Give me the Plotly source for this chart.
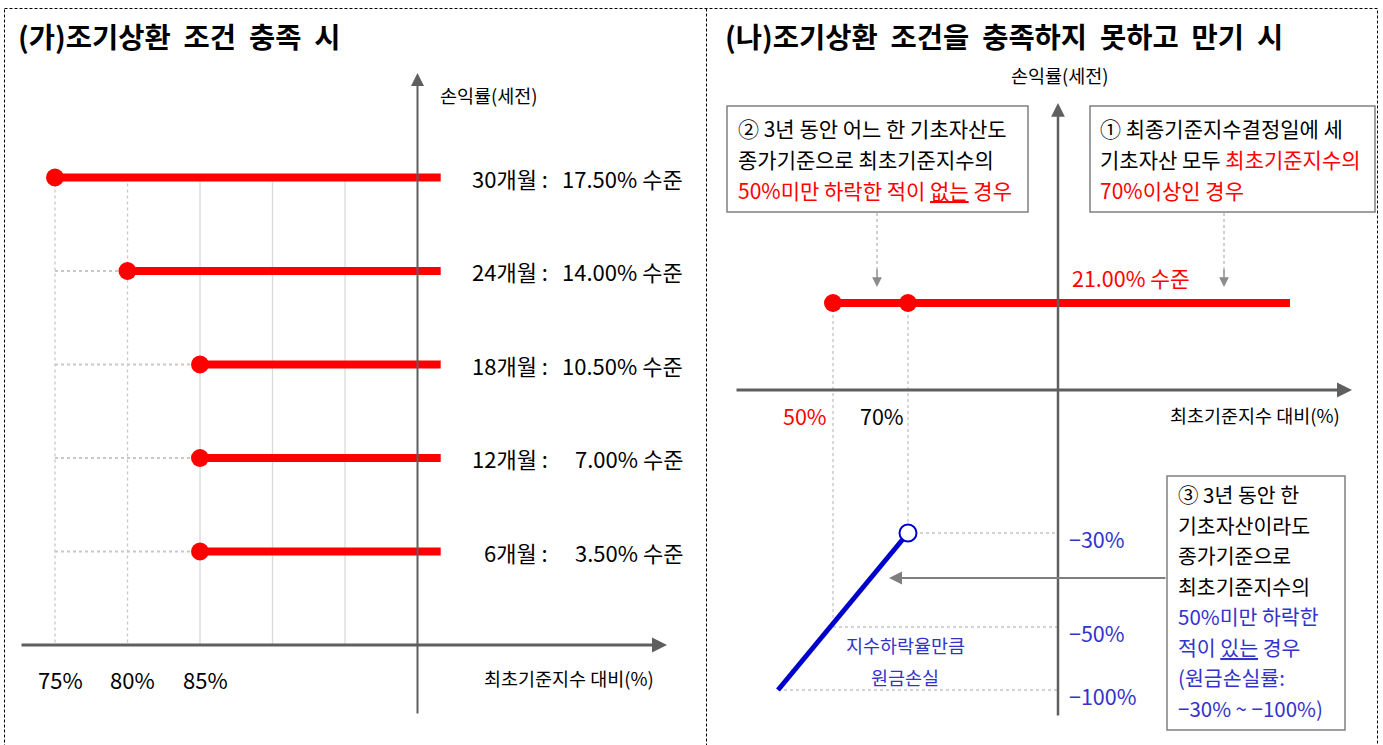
import numpy as np
import plotly.graph_objects as go

W, H = 1383, 745
FONT = "Noto Sans CJK KR"
RED = "#FF0000"
BLUE_LINE = "#0000CC"
BLUE_TXT = "#3333CC"
AXIS = "#5F5F5F"
BOXC = "#808080"

# ---------------- data: (가) early redemption ----------------
months = [30, 24, 18, 12, 6]
coupons = [17.50, 14.00, 10.50, 7.00, 3.50]
barriers = [75, 80, 85, 85, 85]
left_ticks = [75, 80, 85]
left_grid = [75, 80, 85, 90, 95]
left_line_end = 101.6

# ---------------- data: (나) maturity ----------------
mat_coupon = 21.00
ki_barrier = 50
mat_barrier = 70
red_line_index = [ki_barrier, 150]
loss_index = [70, 0]
loss_return = [-30, -100]
right_yticks = [-30, -50, -100]
right_xticks = [50, 70]

# ---------------- scales ----------------
# left panel: linear axes (x: % of initial index, y: return %)
LX_PX0, LX_V0, LX_K = 55, 75, 14.5        # px = 55 + (v-75)*14.5
LY_PX0, LY_K = 645, 93.5 / 3.5            # px = 645 - v*k
def lx(v): return LX_PX0 + (v - LX_V0) * LX_K
def ly(v): return LY_PX0 - v * LY_K
PANEL_SPLIT = 706

# right panel: schematic (broken) scale
RX_IDX = [0, 50, 70, 100, 150]; RX_PX = [778, 833, 908, 1058, 1290]
RY_RET = [-100, -50, -30, 0, 21]; RY_PX = [690, 627, 533, 390, 303]
def rx(v): return np.interp(v, RX_IDX, RX_PX)
def ry(v): return np.interp(v, RY_RET, RY_PX)

fig = go.Figure()

def ltrace(x, y, **kw):
    fig.add_trace(go.Scatter(x=x, y=y, xaxis="x", yaxis="y", showlegend=False,
                             hoverinfo="skip", cliponaxis=False, **kw))

def rtrace(x, y, **kw):
    fig.add_trace(go.Scatter(x=list(rx(np.array(x, float))), y=list(ry(np.array(y, float))),
                             xaxis="x2", yaxis="y2", showlegend=False,
                             hoverinfo="skip", cliponaxis=False, **kw))

# ---- left panel ----
top = max(coupons)
for g in left_grid:
    dotted = g < 85
    ltrace([g, g], [top, 0], mode="lines",
           line=dict(color="#C8C8C8" if dotted else "#DADADA", width=1.3,
                     dash="dot" if dotted else "solid"))
for b, c in zip(barriers, coupons):
    if b > min(barriers):
        ltrace([min(barriers), b], [c, c], mode="lines",
               line=dict(color="#C8C8C8", width=2.2, dash="dot"))
for b, c in zip(barriers, coupons):
    ltrace([b, left_line_end], [c, c], mode="lines", line=dict(color=RED, width=8))
ltrace(barriers, coupons, mode="markers",
       marker=dict(color=RED, size=18, line=dict(width=0)))

# ---- right panel ----
rtrace([ki_barrier, ki_barrier], [mat_coupon, -50], mode="lines",
       line=dict(color="#B0B0B0", width=1, dash="dot"))
rtrace([mat_barrier, mat_barrier], [mat_coupon, loss_return[0]], mode="lines",
       line=dict(color="#B0B0B0", width=1, dash="dot"))
for v, x0 in zip(right_yticks, [70, 50, 0]):
    rtrace([x0, 100], [v, v], mode="lines", line=dict(color="#A8A8A8", width=1.2, dash="dot"))
rtrace(red_line_index, [mat_coupon, mat_coupon], mode="lines", line=dict(color=RED, width=8))
rtrace([ki_barrier, mat_barrier], [mat_coupon, mat_coupon], mode="markers",
       marker=dict(color=RED, size=18, line=dict(width=0)))
rtrace(loss_index, loss_return, mode="lines", line=dict(color=BLUE_LINE, width=5))
rtrace([loss_index[0]], [loss_return[0]], mode="markers",
       marker=dict(color="white", size=17, line=dict(color=BLUE_LINE, width=2)))

annos = []
shapes = []

def P(x, y):
    return x / W, 1 - y / H

def txt(x, y, s, size, color="#000000", anchor="left", bold=False):
    px, py = P(x, y)
    annos.append(dict(x=px, y=py, xref="paper", yref="paper", text=(f"<b>{s}</b>" if bold else s),
                      showarrow=False, xanchor=anchor, yanchor="middle", borderpad=0,
                      font=dict(family=FONT, size=size, color=color)))

def arrow(x0, y0, x1, y1, color, width, size=1.0, head=2):
    px, py = P(x1, y1)
    annos.append(dict(x=px, y=py, xref="paper", yref="paper", text="", showarrow=True,
                      ax=x0 - x1, ay=y0 - y1, axref="pixel", ayref="pixel",
                      arrowhead=head, arrowsize=size, arrowwidth=width, arrowcolor=color,
                      standoff=0, startstandoff=0))

def line(x0, y0, x1, y1, color, width, dash="solid"):
    shapes.append(dict(type="line", xref="paper", yref="paper",
                       x0=x0 / W, y0=1 - y0 / H, x1=x1 / W, y1=1 - y1 / H,
                       line=dict(color=color, width=width, dash=dash)))

def rect(x0, y0, x1, y1, color, width, dash="solid"):
    shapes.append(dict(type="rect", xref="paper", yref="paper",
                       x0=x0 / W, y0=1 - y0 / H, x1=x1 / W, y1=1 - y1 / H,
                       line=dict(color=color, width=width, dash=dash), fillcolor="rgba(0,0,0,0)"))

# frame
rect(4.5, 8.5, 1377.5, 760, "#000000", 1, "3px,2px")
line(706.5, 8.5, 706.5, 760, "#000000", 1, "3px,2px")

# ---- left panel decorations ----
txt(17, 35, "(가)조기상환  조건  충족  시", 28.5, bold=True)
arrow(20, ly(0), 667, ly(0), AXIS, 3, 1.0, 2)
arrow(lx(100), 715, lx(100), 73, AXIS, 2, 1.3, 2)
txt(439, 95, "손익률(세전)", 18.5)
for m, c in zip(months, coupons):
    txt(549, ly(c), f"{m}개월 :", 22, anchor="right")
    txt(684, ly(c), f"{c:.2f}% 수준", 22, anchor="right")
for v in left_ticks:
    txt(lx(v) + 5, 679, f"{v}%", 22, anchor="center")
txt(655, 678, "최초기준지수 대비(%)", 18.5, anchor="right")

# ---- right panel decorations ----
txt(724, 35, "(나)조기상환  조건을  충족하지  못하고  만기  시", 28.5, bold=True)
arrow(735, ry(0), 1352, ry(0), AXIS, 3, 1.0, 2)
arrow(rx(100), 717, rx(100), 103, AXIS, 2.5, 1.1, 2)
txt(rx(100) + 2, 75, "손익률(세전)", 18.5, anchor="center")

# box 2
rect(727, 106, 1028, 212, BOXC, 1.5)
txt(737, 128, "② 3년 동안 어느 한 기초자산도", 21)
txt(737, 159, "종가기준으로 최초기준지수의", 21)
txt(737, 190, '50%미만 하락한 적이 <span style="text-decoration:underline">없는</span> 경우', 21, color=RED)
# box 1
rect(1090, 106, 1375, 212, BOXC, 1.5)
txt(1099, 128, "① 최종기준지수결정일에 세", 21)
txt(1099, 159, f'기초자산 모두 <span style="color:{RED}">최초기준지수의</span>', 21)
txt(1099, 190, f"{mat_barrier}%이상인 경우", 21, color=RED)
# pointers from boxes
for xp in (877, 1224):
    line(xp, 213, xp, 272, "#A0A0A0", 1, "dot")
    arrow(xp, 268, xp, 287, "#8C8C8C", 1.5, 1.3, 2)

txt(1071, 277, f"{mat_coupon:.2f}% 수준", 21.5, color=RED)
txt(rx(right_xticks[0]) - 28, 415, f"{right_xticks[0]}%", 21.5, color=RED, anchor="center")
txt(rx(right_xticks[1]) - 26, 415, f"{right_xticks[1]}%", 21.5, anchor="center")
txt(1341, 415, "최초기준지수 대비(%)", 18.5, anchor="right")
for v in right_yticks:
    txt(1068, ry(v) + 5, f"−{abs(v)}%", 21.5, color=BLUE_TXT)
txt(905, 645, "지수하락율만큼", 18.5, color=BLUE_TXT, anchor="center")
txt(905, 677, "원금손실", 18.5, color=BLUE_TXT, anchor="center")

# box 3
rect(1167, 476, 1345, 730, BOXC, 1.5)
box3 = [("③ 3년 동안 한", "#000000"), ("기초자산이라도", "#000000"), ("종가기준으로", "#000000"),
        ("최초기준지수의", "#000000"), ("50%미만 하락한", BLUE_TXT),
        ('적이 <span style="text-decoration:underline">있는</span> 경우', BLUE_TXT),
        ("(원금손실률:", BLUE_TXT), ("−30% ~ −100%)", BLUE_TXT)]
for i, (s, col) in enumerate(box3):
    txt(1177, 494 + i * 30.5, s, 20.5, color=col)
arrow(1167, 578, 889, 578, "#7F7F7F", 2, 1.3, 2)

fig.update_layout(
    width=W, height=H, margin=dict(l=0, r=0, t=0, b=0),
    paper_bgcolor="white", plot_bgcolor="rgba(0,0,0,0)",
    xaxis=dict(domain=[0, PANEL_SPLIT / W],
               range=[LX_V0 - LX_PX0 / LX_K, LX_V0 + (PANEL_SPLIT - LX_PX0) / LX_K],
               visible=False, fixedrange=True),
    yaxis=dict(domain=[0, 1], range=[-(H - LY_PX0) / LY_K, LY_PX0 / LY_K],
               visible=False, fixedrange=True),
    xaxis2=dict(domain=[PANEL_SPLIT / W, 1], range=[PANEL_SPLIT, W],
                visible=False, fixedrange=True),
    yaxis2=dict(domain=[0, 1], range=[H, 0], visible=False, fixedrange=True),
    annotations=annos, shapes=shapes,
    font=dict(family=FONT),
)
fig.write_html("out.html", config={"displayModeBar": False},
               post_script="document.body.style.margin='0';document.body.style.overflow='hidden';")
